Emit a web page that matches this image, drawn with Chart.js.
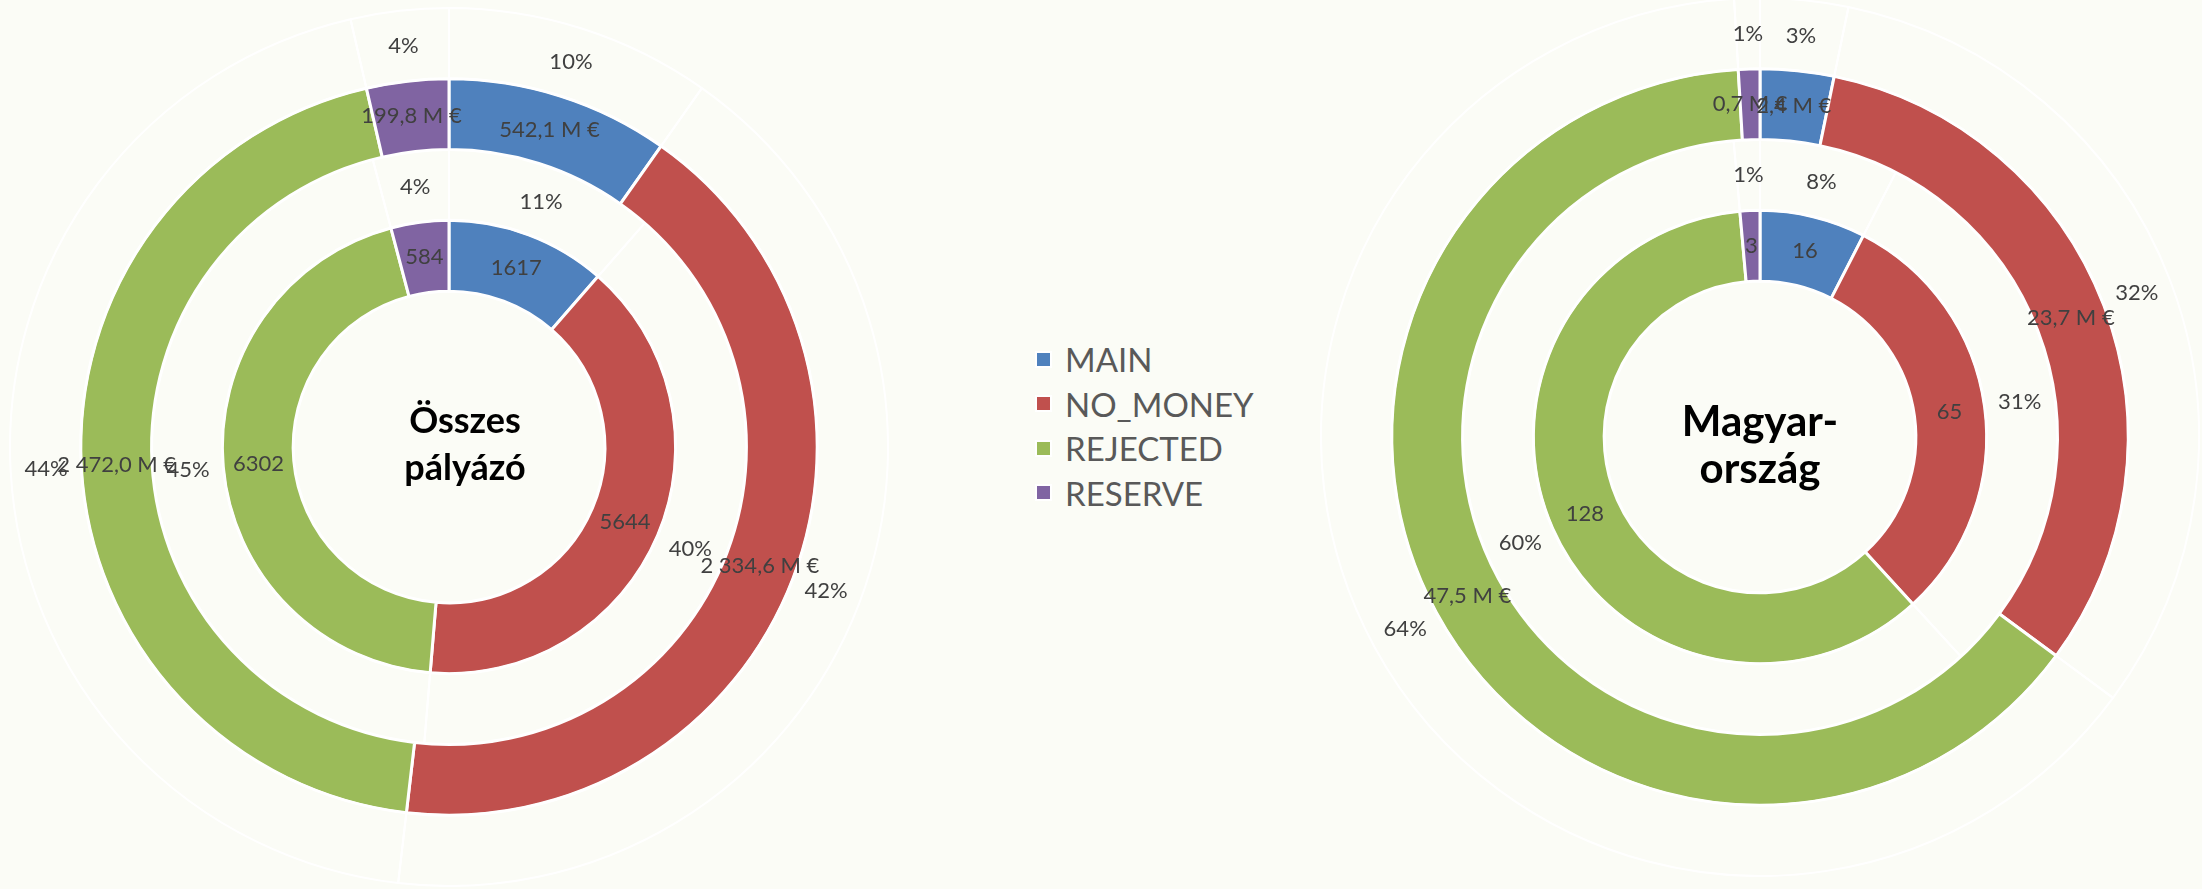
<!DOCTYPE html>
<html>
<head>
<meta charset="utf-8">
<script src="https://cdn.jsdelivr.net/npm/chart.js@4.4.1/dist/chart.umd.min.js"></script>
<style>
  html, body { margin: 0; padding: 0; background: #fbfcf6; }
  body { width: 2202px; height: 889px; position: relative; overflow: hidden; font-family: Lato, "Open Sans", sans-serif; }
  .pie { position: absolute; width: 880px; height: 880px; }
  #legend { position: absolute; left: 1035px; top: 337px; }
  .leg-row { display: flex; align-items: center; height: 44.5px; color: #595959; font-size: 33px; }
  .leg-box { width: 13px; height: 13px; border: 2px solid #fff; margin-right: 13px; }
</style>
</head>
<body>
<div class="pie" style="left:9px; top:7px;"><canvas id="allChart"></canvas></div>
<div class="pie" style="left:1320px; top:-3px;"><canvas id="huChart"></canvas></div>
<div id="legend"></div>
<script>
const categories = ["MAIN", "NO_MONEY", "REJECTED", "RESERVE"];
const colors = ["#4f81bd", "#c0504d", "#9bbb59", "#8064a2"];

// Összes pályázó
const allCounts = [1617, 5644, 6302, 584];
const allMoney = [542.1, 2334.6, 2472.0, 199.8];
const allCountPct = ["11%", "40%", "45%", "4%"];
const allMoneyPct = ["10%", "42%", "44%", "4%"];

// Magyarország
const huCounts = [16, 65, 128, 3];
const huMoney = [2.4, 23.7, 47.5, 0.7];
const huCountPct = ["8%", "31%", "60%", "1%"];
const huMoneyPct = ["3%", "32%", "64%", "1%"];

const fmtMoney = (v) => {
  const [i, d] = v.toFixed(1).split(".");
  return i.replace(/\B(?=(\d{3})+(?!\d))/g, " ") + "," + d + " M €";
};

// draws each ring's labels at the middle of its arcs
const ringLabels = {
  id: "ringLabels",
  afterDatasetsDraw(chart) {
    const ctx = chart.ctx;
    ctx.save();
    ctx.font = "22px Lato";
    ctx.fillStyle = "#404040";
    ctx.textAlign = "center";
    ctx.textBaseline = "middle";
    chart.data.datasets.forEach((ds, i) => {
      chart.getDatasetMeta(i).data.forEach((arc, j) => {
        const p = arc.getCenterPoint();
        ctx.fillText(ds.texts[j], p.x, p.y);
      });
    });
    ctx.restore();
  },
};

const centerTitle = {
  id: "centerTitle",
  afterDraw(chart, args, opts) {
    const ctx = chart.ctx;
    const cx = (chart.chartArea.left + chart.chartArea.right) / 2;
    const cy = (chart.chartArea.top + chart.chartArea.bottom) / 2;
    ctx.save();
    ctx.font = "bold " + opts.size + "px Lato";
    ctx.fillStyle = "#000";
    ctx.textAlign = "center";
    ctx.textBaseline = "alphabetic";
    opts.lines.forEach((t, k) => ctx.fillText(t, cx + opts.dx, cy + opts.baselines[k]));
    ctx.restore();
  },
};

function pctRing(values, texts) {
  return { data: values, texts: texts, backgroundColor: "rgba(0,0,0,0)", borderColor: "#ffffff", borderWidth: 2, hoverBorderWidth: 2 };
}
function colorRing(values, texts) {
  return { data: values, texts: texts, backgroundColor: colors, borderColor: "#ffffff", borderWidth: 3, hoverBorderWidth: 3 };
}

function makeChart(id, counts, money, countPct, moneyPct, title) {
  new Chart(document.getElementById(id), {
    type: "doughnut",
    data: {
      labels: categories,
      datasets: [
        pctRing(money, moneyPct),
        colorRing(money, money.map(fmtMoney)),
        pctRing(counts, countPct),
        colorRing(counts, counts.map(String)),
      ],
    },
    options: {
      responsive: true,
      maintainAspectRatio: false,
      animation: false,
      cutout: "35.5%",
      layout: { padding: 0 },
      events: [],
      plugins: { legend: { display: false }, tooltip: { enabled: false }, centerTitle: title },
    },
    plugins: [ringLabels, centerTitle],
  });
}

makeChart("allChart", allCounts, allMoney, allCountPct, allMoneyPct, { lines: ["Összes", "pályázó"], size: 36, dx: 16, baselines: [-14, 33] });
makeChart("huChart", huCounts, huMoney, huCountPct, huMoneyPct, { lines: ["Magyar-", "ország"], size: 42, dx: 0, baselines: [-1, 46] });

document.getElementById("legend").innerHTML = categories
  .map((c, i) => `<div class="leg-row"><span class="leg-box" style="background:${colors[i]}"></span>${c}</div>`)
  .join("");
</script>
</body>
</html>
